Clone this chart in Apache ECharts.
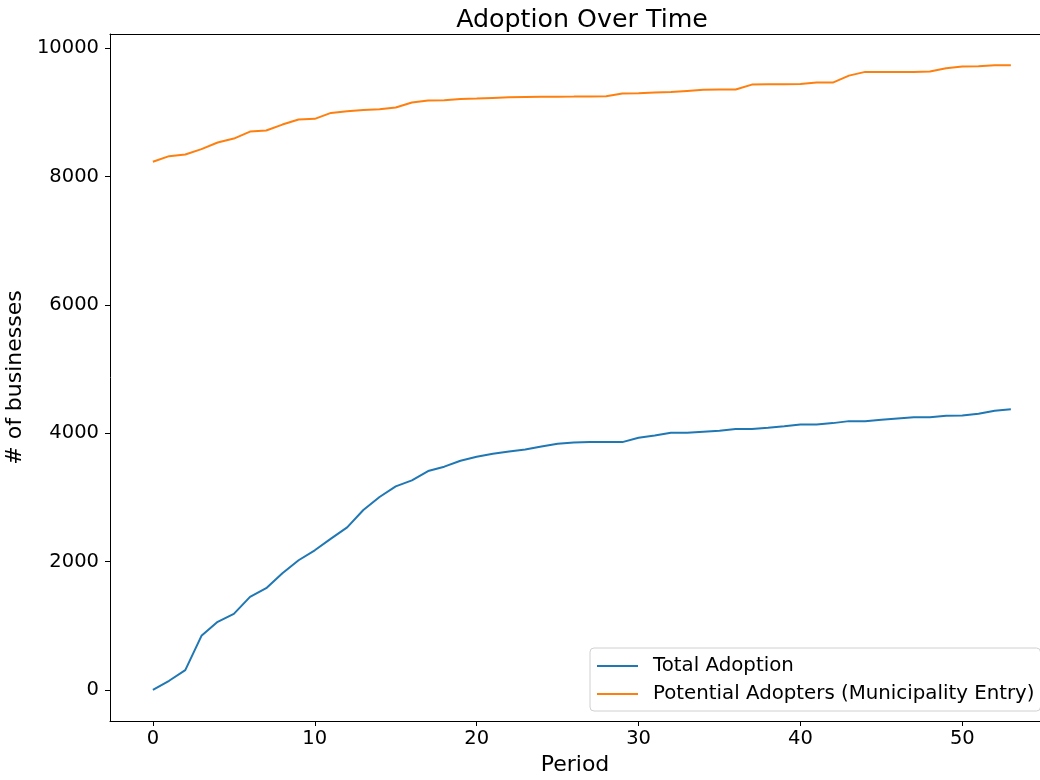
<!DOCTYPE html>
<html>
<head>
<meta charset="utf-8">
<script src="https://cdn.jsdelivr.net/npm/echarts@6/dist/echarts.min.js"></script>
<style>html,body{margin:0;padding:0;background:#fff}#c{width:1040px;height:780px}</style>
</head>
<body>
<div id="c"></div>
<script>
const periods = Array.from({length: 54}, (_, i) => i);
const totalAdoption = [0,140,307,841,1059,1183,1448,1583,1816,2019,2174,2356,2532,2802,3004,3171,3264,3409,3477,3570,3633,3679,3715,3746,3793,3835,3855,3860,3860,3860,3928,3964,4006,4006,4022,4037,4063,4063,4084,4109,4135,4135,4156,4187,4187,4208,4229,4249,4249,4270,4275,4301,4348,4373];
const potentialAdopters = [8229,8317,8343,8426,8529,8591,8700,8716,8809,8887,8898,8991,9018,9038,9049,9074,9152,9183,9189,9209,9214,9225,9236,9240,9242,9244,9245,9248,9251,9292,9297,9308,9318,9334,9350,9355,9355,9432,9437,9437,9443,9463,9463,9572,9630,9630,9630,9630,9635,9687,9713,9718,9734,9734];
const xTicks = [0,10,20,30,40,50];
const yTicks = [0,2000,4000,6000,8000,10000];

const FONT = "'DejaVu Sans'";
const chart = echarts.init(document.getElementById('c'), null, {renderer: 'canvas'});
const toPairs = arr => arr.map((v, i) => [periods[i], v]);
chart.setOption({
  animation: false,
  backgroundColor: '#fff',
  textStyle: {fontFamily: FONT},
  title: {
    text: 'Adoption Over Time',
    left: 577, top: 3, textAlign: 'center',
    textStyle: {fontFamily: FONT, fontSize: 25.3, fontWeight: 'normal', color: '#000'}
  },
  grid: {left: 110, right: 0, top: 34, bottom: 59, containLabel: false, outerBoundsMode: 'none'},
  legend: {
    orient: 'vertical',
    left: 590, top: 648,
    padding: [8, 6, 7, 7],
    itemGap: 8,
    itemWidth: 41, itemHeight: 2,
    icon: 'rect',
    backgroundColor: '#fff',
    borderColor: '#d0d0d0', borderWidth: 1, borderRadius: 4,
    textStyle: {fontFamily: FONT, fontSize: 19.8, color: '#000', padding: [0, 0, 0, 10]},
    data: ['Total Adoption', 'Potential Adopters (Municipality Entry)']
  },
  xAxis: [{
    type: 'value',
    min: -2.65, max: 54.8,
    name: 'Period', nameLocation: 'middle', nameGap: 33,
    nameTextStyle: {fontFamily: FONT, fontSize: 22, color: '#000'},
    axisLine: {show: true, onZero: false, lineStyle: {color: '#000', width: 1}},
    axisTick: {show: true, length: 5, customValues: xTicks, lineStyle: {color: '#000'}},
    axisLabel: {customValues: xTicks, margin: 8, fontFamily: FONT, fontSize: 19.5, color: '#000', formatter: v => String(v)},
    splitLine: {show: false}
  }, {
    type: 'value', position: 'top',
    min: -2.65, max: 54.8,
    axisLine: {show: true, onZero: false, lineStyle: {color: '#000', width: 1}},
    axisTick: {show: false}, axisLabel: {show: false}, splitLine: {show: false}
  }],
  yAxis: {
    type: 'value',
    min: -486.7, max: 10220.7,
    name: '# of businesses', nameLocation: 'middle', nameGap: 68,
    nameTextStyle: {fontFamily: FONT, fontSize: 22, color: '#000'},
    axisLine: {show: true, onZero: false, lineStyle: {color: '#000', width: 1}},
    axisTick: {show: true, length: 5, customValues: yTicks, lineStyle: {color: '#000'}},
    axisLabel: {customValues: yTicks, margin: 11, fontFamily: FONT, fontSize: 19.5, color: '#000', formatter: v => String(v)},
    splitLine: {show: false}
  },
  series: [{
    name: 'Total Adoption', type: 'line', data: toPairs(totalAdoption),
    showSymbol: false, symbol: 'none',
    lineStyle: {color: '#1f77b4', width: 2}, itemStyle: {color: '#1f77b4'}
  }, {
    name: 'Potential Adopters (Municipality Entry)', type: 'line', data: toPairs(potentialAdopters),
    showSymbol: false, symbol: 'none',
    lineStyle: {color: '#ff7f0e', width: 2}, itemStyle: {color: '#ff7f0e'}
  }]
});
</script>
</body>
</html>
